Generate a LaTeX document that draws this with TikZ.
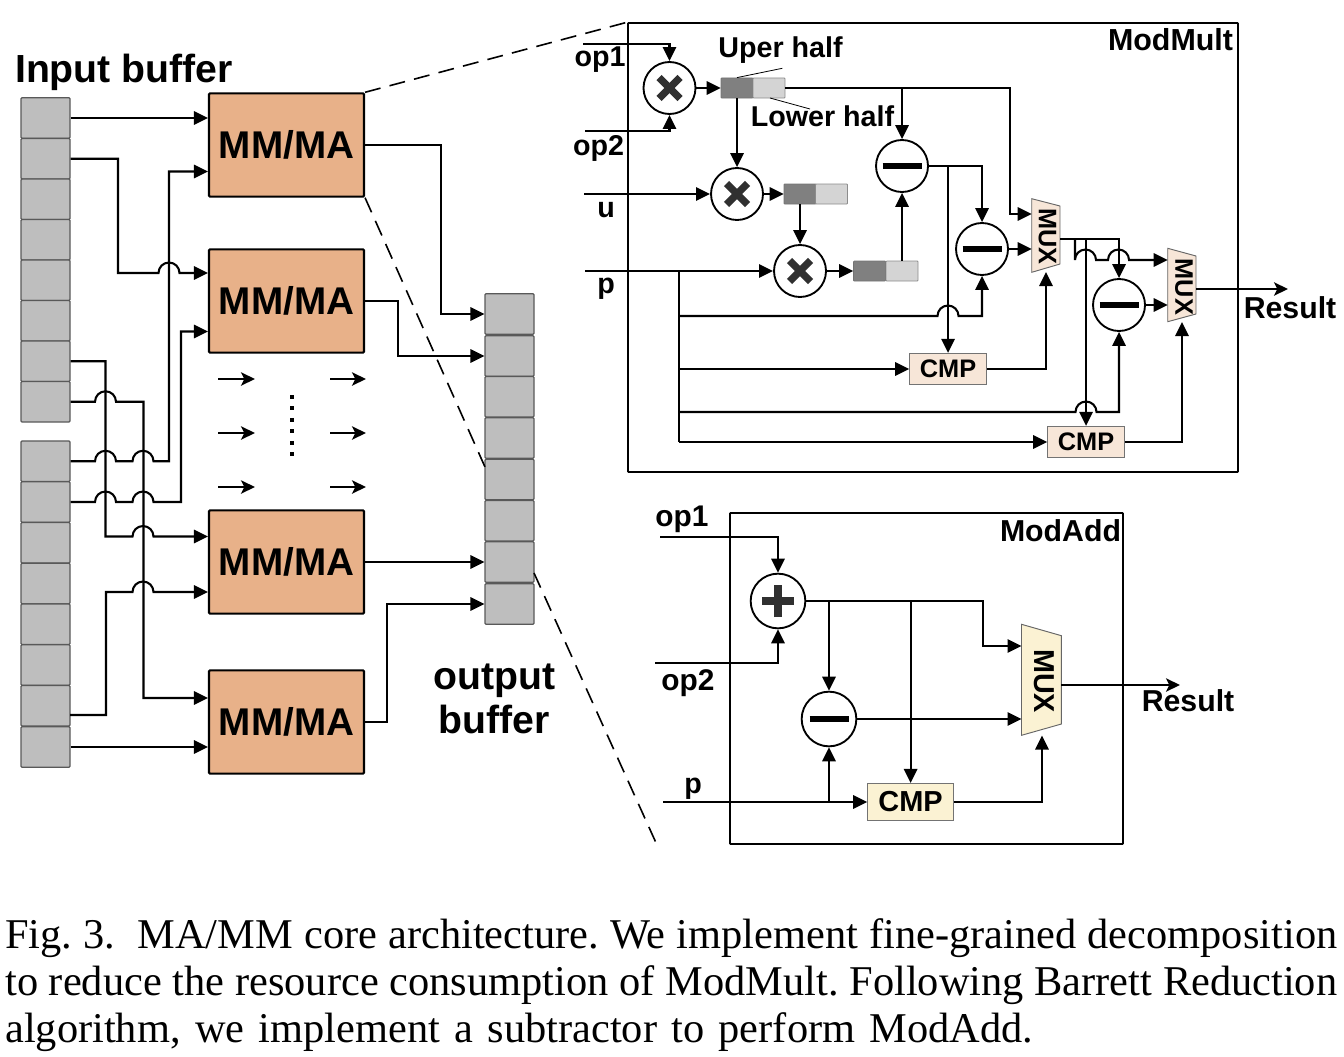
\documentclass[tikz,border=0pt]{standalone}
\usepackage{fontspec}
\setmainfont{Liberation Sans}
\newfontfamily\capfont{Liberation Serif}
\usetikzlibrary{arrows.meta,calc}

\definecolor{mmfill}{HTML}{E8B189}
\definecolor{cellfill}{HTML}{BEBEBE}
\definecolor{peachfill}{HTML}{F7E6D8}
\definecolor{creamfill}{HTML}{FBF2D3}
\definecolor{signgray}{HTML}{303030}

\tikzset{
	wire/.style={line width=1.55pt},
	arr/.style={-{Triangle[length=10.5pt,width=10pt]}},
	opn/.style={-{Stealth[length=10.5pt,width=10pt,inset=2.5pt]}},
	hop/.style={insert path={arc[start angle=180,end angle=360,radius=10.5]}},
	zoomline/.style={line width=1.2pt,dash pattern=on 12pt off 7pt},
	cell/.style={draw=black!65,line width=0.9pt,fill=cellfill,rounded corners=0.8pt,minimum width=36.75pt,minimum height=30.4pt,inner sep=0pt},
	mmblock/.style={draw,line width=1.55pt,fill=mmfill,rounded corners=0.8pt,minimum width=116.25pt,minimum height=77.5pt,inner sep=0pt,font=\bfseries\fontsize{29}{29}\selectfont},
	frame/.style={draw,line width=1.4pt,rounded corners=0.6pt},
	regdark/.style={draw=black!55,line width=0.6pt,fill=black!50,rounded corners=0.6pt,minimum width=24pt,minimum height=15pt,inner sep=0pt},
	reglight/.style={draw=black!45,line width=0.6pt,fill=black!17,rounded corners=0.6pt,minimum width=24pt,minimum height=15pt,inner sep=0pt},
	opnode/.style={circle,draw,line width=1.4pt,fill=white,minimum size=39pt,inner sep=0pt},
	addnode/.style={circle,draw,line width=1.4pt,fill=white,minimum size=41pt,inner sep=0pt},
	mulsign/.style={path picture={
		\draw[line width=5.4pt,signgray] ([shift={(-10.5,-10.5)}]path picture bounding box.center) -- ([shift={(10.5,10.5)}]path picture bounding box.center);
		\draw[line width=5.4pt,signgray] ([shift={(-10.5,10.5)}]path picture bounding box.center) -- ([shift={(10.5,-10.5)}]path picture bounding box.center);}},
	subsign/.style={path picture={
		\draw[line width=4.6pt,black] ([shift={(-19.5,0)}]path picture bounding box.center) -- ([shift={(19.5,0)}]path picture bounding box.center);}},
	addsign/.style={path picture={
		\draw[line width=6pt,signgray] ([shift={(-16,0)}]path picture bounding box.center) -- ([shift={(16,0)}]path picture bounding box.center);
		\draw[line width=6pt,signgray] ([shift={(0,-16)}]path picture bounding box.center) -- ([shift={(0,16)}]path picture bounding box.center);}},
	cmpbig/.style={draw=black!55,line width=0.7pt,fill=creamfill,minimum width=64.5pt,minimum height=28pt,inner sep=0pt,font=\bfseries\fontsize{21.7}{22}\selectfont},
	cmpsmall/.style={draw=black!55,line width=0.7pt,fill=peachfill,minimum width=57.5pt,minimum height=23.5pt,inner sep=0pt,font=\bfseries\fontsize{19}{19}\selectfont},
	muxshape/.style={draw=black!60,line width=0.7pt},
	lab/.style={inner sep=0pt,font=\bfseries\fontsize{21.5}{22}\selectfont},
	biglab/.style={inner sep=0pt,align=center,font=\bfseries\fontsize{29.4}{33}\selectfont},
}

\begin{document}
\begin{tikzpicture}[x=0.75pt,y=0.75pt,yscale=-1,xscale=1]
	\useasboundingbox (0,0) rectangle (1344,1056);
	
	% zoom lines
	\coordinate (zoomA) at (628,22);
	\coordinate (zoomB) at (485,467);
	\coordinate (zoomC) at (534,573);
	\coordinate (zoomD) at (657,845);
	
	% input buffer
	\node[cell] (inAa) at (45.5,118) {};
	\node[cell] (inAb) at (45.5,158.75) {};
	\node[cell] (inAc) at (45.5,199.25) {};
	\node[cell] (inAd) at (45.5,239.75) {};
	\node[cell] (inAe) at (45.5,280.25) {};
	\node[cell] (inAf) at (45.5,320.75) {};
	\node[cell] (inAg) at (45.5,361.25) {};
	\node[cell] (inAh) at (45.5,401.75) {};
	\node[cell] (inBa) at (45.5,461.25) {};
	\node[cell] (inBb) at (45.5,502) {};
	\node[cell] (inBc) at (45.5,542.75) {};
	\node[cell] (inBd) at (45.5,583.5) {};
	\node[cell] (inBe) at (45.5,624.25) {};
	\node[cell] (inBf) at (45.5,665) {};
	\node[cell] (inBg) at (45.5,705.75) {};
	\node[cell] (inBh) at (45.5,747) {};
	
	% output buffer
	\node[cell] (outA) at (509.5,314) {};
	\node[cell] (outB) at (509.5,356) {};
	\node[cell] (outC) at (509.5,396.75) {};
	\node[cell] (outD) at (509.5,438) {};
	\node[cell] (outE) at (509.5,479.5) {};
	\node[cell] (outF) at (509.5,520.75) {};
	\node[cell] (outG) at (509.5,562) {};
	\node[cell] (outH) at (509.5,604) {};
	
	% MM/MA cores
	\node[mmblock] (mmA) at (286.5,145) {MM/MA};
	\node[mmblock] (mmB) at (286.5,301) {MM/MA};
	\node[mmblock] (mmC) at (286.5,562) {MM/MA};
	\node[mmblock] (mmD) at (286.5,722) {MM/MA};
	
	\draw[zoomline] (mmA.north east) -- (zoomA);
	\draw[zoomline] (mmA.south east) -- (zoomB);
	\draw[zoomline] (zoomC) -- (zoomD);
	
	% buffer to core
	\draw[wire,arr] (inAa.east) -- (mmA.west |- inAa.east);
	\draw[wire,arr] (inAb.east) -- (118,158.75) -- (118,273) -- (158.5,273) [hop] -- (mmB.west |- 0,273);
	\draw[wire,arr] (inBa.east) -- (95,461.25) [hop] -- (132.5,461.25) [hop] -- (169,461.25) -- (169,171.5) -- (mmA.west |- 0,171.5);
	\draw[wire,arr] (inBb.east) -- (95,502) [hop] -- (132.5,502) [hop] -- (181,502) -- (181,331.5) -- (mmB.west |- 0,331.5);
	\draw[wire,arr] (inAg.east) -- (105.5,361.25) -- (105.5,536.5) -- (132.5,536.5) [hop] -- (mmC.west |- 0,536.5);
	\draw[wire,arr] (inAh.east) -- (95,401.75) [hop] -- (143.5,401.75) -- (143.5,698) -- (mmD.west |- 0,698);
	\draw[wire,arr] (70,715) -- (106,715) -- (106,592) -- (132.5,592) [hop] -- (mmC.west |- 0,592);
	\draw[wire,arr] (inBh.east) -- (mmD.west |- inBh.east);
	
	% core to buffer
	\draw[wire,arr] (mmA.east) -- (441,145) -- (441,314) -- (outA.west);
	\draw[wire,arr] (mmB.east) -- (398,301) -- (398,356) -- (outB.west);
	\draw[wire,arr] (mmC.east) -- (outG.west);
	\draw[wire,arr] (mmD.east) -- (387,722) -- (387,604) -- (outH.west);
	
	% arrows between the cores
	\draw[wire,opn] (218,379) -- (255,379);
	\draw[wire,opn] (218,433) -- (255,433);
	\draw[wire,opn] (218,487) -- (255,487);
	\draw[wire,opn] (330,379) -- (366,379);
	\draw[wire,opn] (330,433) -- (366,433);
	\draw[wire,opn] (330,487) -- (366,487);
	\draw[line width=3pt,dash pattern=on 3pt off 5.6pt] (292,395) -- (292,457);
	
	% ModMult
	\node[frame,minimum width=457.5pt,minimum height=336.75pt] (multframe) at (933,247.5) {};
	
	\node[opnode,mulsign] (mulA) at (669.5,88) {};
	\node[opnode,mulsign] (mulB) at (737,194) {};
	\node[opnode,mulsign] (mulC) at (800,271) {};
	\node[opnode,subsign] (subA) at (902,166) {};
	\node[opnode,subsign] (subB) at (982,249) {};
	\node[opnode,subsign] (subC) at (1119,305) {};
	
	\node[regdark] (regAhi) at (737,88) {};
	\node[reglight] (regAlo) at (769,88) {};
	\node[regdark] (regBhi) at (800,194) {};
	\node[reglight] (regBlo) at (831.5,194) {};
	\node[regdark] (regChi) at (869.5,271) {};
	\node[reglight] (regClo) at (902,271) {};
	
	\node[cmpsmall] (cmpA) at (948,369) {CMP};
	\node[cmpsmall] (cmpB) at (1086,442) {CMP};
	
	\filldraw[muxshape,fill=peachfill] (1031.7,198.7) -- (1060,206) -- (1060,264) -- (1031.7,272.3) -- cycle;
	\node[rotate=-90,inner sep=0pt,font=\bfseries\fontsize{19}{19}\selectfont] (muxA) at (1047.5,236.5) {MUX};
	\filldraw[muxshape,fill=peachfill] (1167.7,248.3) -- (1196,256) -- (1196,314) -- (1167.7,321.7) -- cycle;
	\node[rotate=-90,inner sep=0pt,font=\bfseries\fontsize{19}{19}\selectfont] (muxB) at (1184,287) {MUX};
	
	\coordinate (opAin) at (583,44);
	\coordinate (opBin) at (585,131);
	\coordinate (uin) at (584,194);
	\coordinate (pin) at (585,271);
	\coordinate (pbus) at (679,271);
	\coordinate (muxAa) at (1031.7,214);
	\coordinate (muxAo) at (1060,239);
	\coordinate (muxBa) at (1167.7,260);
	\coordinate (muxBo) at (1196,289);
	\coordinate (resA) at (1288,289);
	
	\draw[wire,arr] (opAin) -| (mulA.north);
	\draw[wire,arr] (opBin) -| (mulA.south);
	\draw[wire,arr] (uin) -- (mulB.west);
	\draw[wire,arr] (pin) -- (mulC.west);
	\draw[wire,arr] (mulA.east) -- (regAhi.west);
	\draw[wire,arr] (mulB.east) -- (regBhi.west);
	\draw[wire,arr] (mulC.east) -- (regChi.west);
	\draw[wire,arr] (regAhi.south) -- (mulB.north);
	\draw[wire,arr] (regBhi.south) -- (mulC.north);
	\draw[wire,arr] (regClo.north) -- (subA.south);
	\draw[wire,arr] (regAlo.east) -| (1010,214) -- (muxAa);
	\draw[wire,arr] (regAlo.east -| subA) -- (subA.north);
	\draw[wire,arr] (subA.east) -| (subB.north);
	\draw[wire,arr] (subA.east -| cmpA) -- (cmpA.north);
	\draw[wire,arr] (subB.east) -- (subB.east -| muxAa);
	\draw[wire,arr] (cmpA.east) -| (1046,272);
	\draw[wire,arr] (muxAo) -| (subC.north);
	\draw[wire,arr] (muxAo -| cmpB) -- (cmpB.north);
	\draw[wire,arr] (1075,239) -- (1075,260) [hop] -- (1108,260) [hop] -- (muxBa);
	\draw[wire,arr] (subC.east) -- (subC.east -| muxBa);
	\draw[wire,arr] (cmpB.east) -| (1182,322);
	\draw[wire,opn] (muxBo) -- (resA);
	
	% p bus
	\draw[wire] (pbus) -- (cmpB.west -| pbus);
	\draw[wire,arr] (pbus |- 0,316) -- (937.5,316) [hop] -| (subB.south);
	\draw[wire,arr] (pbus |- cmpA.west) -- (cmpA.west);
	\draw[wire,arr] (pbus |- 0,412) -- (1075.5,412) [hop] -| (subC.south);
	\draw[wire,arr] (pbus |- cmpB.west) -- (cmpB.west);
	
	% half leaders
	\draw[line width=0.6pt] (regAhi.north) -- (782.3,68.3);
	\draw[line width=0.6pt] (770,98) -- (810,109);
	
	% Text Node
	\node[lab,font=\bfseries\fontsize{22.8}{23}\selectfont] (multtitle) at (1170.5,40) {ModMult};
	\node[lab] (opAlab) at (600,59.5) {op1};
	\node[lab] (opBlab) at (598.5,148) {op2};
	\node[lab] (ulab) at (606,210) {u};
	\node[lab] (plab) at (606,289) {p};
	\node[lab] (uperlab) at (780.5,50) {Uper half};
	\node[lab] (lowerlab) at (822.5,116) {Lower half};
	\node[lab,font=\bfseries\fontsize{22.7}{23}\selectfont] (resAlab) at (1290,308) {Result};
	
	% ModAdd
	\node[frame,minimum width=294.75pt,minimum height=248.25pt] (addframe) at (926.5,678.5) {};
	
	\node[addnode,addsign] (addA) at (778,601) {};
	\node[addnode,subsign] (subD) at (829,719) {};
	\node[cmpbig] (cmpC) at (910.6,802) {CMP};
	
	\filldraw[muxshape,fill=creamfill] (1021.5,624.3) -- (1061.4,635.7) -- (1061.4,724) -- (1021.5,735.3) -- cycle;
	\node[rotate=-90,inner sep=0pt,font=\bfseries\fontsize{21.6}{22}\selectfont] (muxC) at (1044,681) {MUX};
	
	\coordinate (opCin) at (660,537);
	\coordinate (opDin) at (655,663);
	\coordinate (pCin) at (663,802);
	\coordinate (muxCa) at (1021.5,646);
	\coordinate (muxCo) at (1061.4,685);
	\coordinate (resB) at (1180,685);
	
	\draw[wire,arr] (opCin) -| (addA.north);
	\draw[wire,arr] (opDin) -| (addA.south);
	\draw[wire,arr] (pCin) -- (cmpC.west |- pCin);
	\draw[wire,arr] (subD |- pCin) -- (subD.south);
	\draw[wire,arr] (addA.east -| subD) -- (subD.north);
	\draw[wire,arr] (addA.east -| cmpC) -- (cmpC.north);
	\draw[wire,arr] (addA.east) -- (983,601) -- (983,646) -- (muxCa);
	\draw[wire,arr] (subD.east) -- (subD.east -| muxCa);
	\draw[wire,arr] (cmpC.east) -| (1042,735.5);
	\draw[wire,opn] (muxCo) -- (resB);
	
	% Text Node
	\node[lab,font=\bfseries\fontsize{22.7}{23}\selectfont] (addtitle) at (1060.5,531) {ModAdd};
	\node[lab,font=\bfseries\fontsize{22.4}{23}\selectfont] (opClab) at (682,519) {op1};
	\node[lab,font=\bfseries\fontsize{22.4}{23}\selectfont] (opDlab) at (688,683) {op2};
	\node[lab] (pClab) at (693,789) {p};
	\node[lab,font=\bfseries\fontsize{22.7}{23}\selectfont] (resBlab) at (1188,701) {Result};
	
	% buffer titles
	\node[biglab] (inlab) at (124,72) {Input buffer};
	\node[biglab] (outlab) at (494.5,699) {output\\buffer};
	
	% caption
	\node[anchor=north west,inner sep=0pt,text width=999pt,align=justify,font=\capfont\frenchspacing\fontsize{31.8}{35.2}\selectfont] (caption) at (5,918) {Fig. 3.\ \ MA/MM core architecture. We implement fine-grained decomposition\linebreak to reduce the resource consumption of ModMult. Following Barrett Reduction\linebreak \makebox[771pt][s]{algorithm, we implement a subtractor to perform ModAdd.}};
\end{tikzpicture}
\end{document}
